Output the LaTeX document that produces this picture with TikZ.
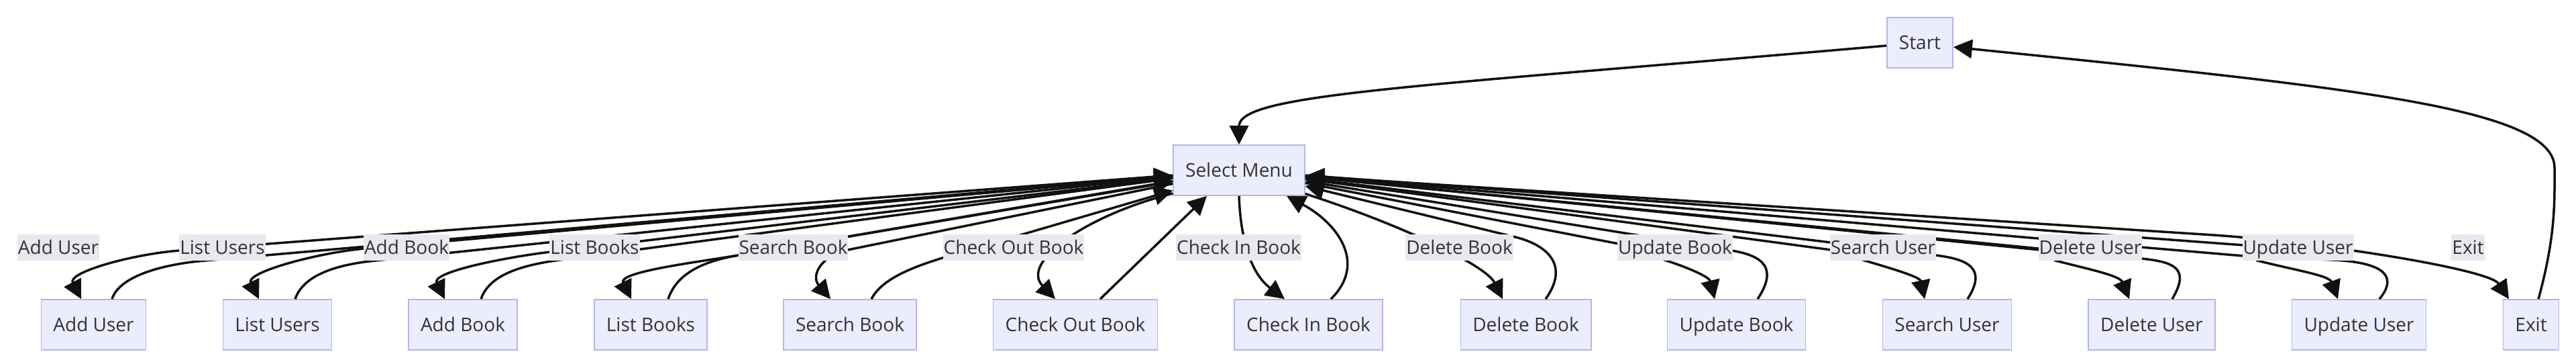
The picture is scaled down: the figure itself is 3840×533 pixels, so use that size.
\documentclass[tikz,border=0pt]{standalone}
\usepackage{fontspec}
\setmainfont{Open Sans}
\usetikzlibrary{arrows.meta,calc}
\definecolor{nodefill}{RGB}{236,236,255}
\definecolor{nodeline}{RGB}{180,180,240}
\definecolor{lblbg}{RGB}{232,232,240}
\definecolor{edgecol}{RGB}{17,17,17}
\definecolor{txt}{RGB}{51,51,51}
\begin{document}
\begin{tikzpicture}[x=0.5pt,y=-0.5pt,
  box/.style={draw=nodeline, line width=0.8pt, fill=nodefill, text=txt, inner xsep=9pt, inner ysep=0pt,
    minimum height=37.5pt, text height=10pt, text depth=0pt, font=\fontsize{14}{16}\selectfont},
  lbl/.style={fill=lblbg, text=txt, inner xsep=0.5pt, inner ysep=0pt,
    minimum height=19.5pt, text height=10pt, text depth=0pt, font=\fontsize{14}{16}\selectfont},
  edge/.style={draw=edgecol, line width=1.75pt, line join=round, -{Triangle[length=14pt,width=14pt]}}]
\useasboundingbox[fill=white] (0,0) rectangle (3840,533);

% nodes
\node[box] (start) at (2862,63.5) {Start};
\node[box] (menu) at (1847,253.5) {Select Menu};
\node[box] (au) at (139.5,483.5) {Add User};
\node[box] (lu) at (413.5,483.5) {List Users};
\node[box] (ab) at (690,483.5) {Add Book};
\node[box] (lb) at (970,483.5) {List Books};
\node[box] (sb) at (1267,483.5) {Search Book};
\node[box] (cob) at (1603,483.5) {Check Out Book};
\node[box] (cib) at (1950.5,483.5) {Check In Book};
\node[box] (db) at (2274.5,483.5) {Delete Book};
\node[box] (ub) at (2588.5,483.5) {Update Book};
\node[box] (su) at (2902.5,483.5) {Search User};
\node[box] (du) at (3207.5,483.5) {Delete User};
\node[box] (uu) at (3516.5,483.5) {Update User};
\node[box] (ex) at (3773,483.5) {Exit};

% Start -> Select Menu
\draw[edge] ($(start.west)+(0,4.5)$) .. controls (2100,130) and (1847,140) .. (menu.north);

% left forward edges
\draw[edge] ($(menu.west)+(0,7.5)$) -- (268,373) .. controls (200,378) and (100,405) .. ($(au.north)+(-18.5,0)$);
\draw[edge] ($(menu.west)+(0,8.8)$) -- (544,370) .. controls (476,376) and (366,405) .. ($(lu.north)+(-27.5,0)$);
\draw[edge] ($(menu.west)+(0,11.5)$) -- (821,375) .. controls (753,383) and (643,405) .. ($(ab.north)+(-27,0)$);
\draw[edge] ($(menu.west)+(0,16)$) -- (1101,380) .. controls (1034,391) and (921,405) .. ($(lb.north)+(-29,0)$);
\draw[edge] ($(menu.west)+(0,20)$) -- (1264,372) .. controls (1225,380) and (1208,410) .. ($(sb.north)+(-29,0)$);
\draw[edge] ($(menu.west)+(0,34.5)$) .. controls (1620,320) and (1520,390) .. ($(cob.north)+(-30,0)$);

% left return edges
\draw[edge] ($(au.north)+(27.5,0)$) .. controls (178,410) and (246,393) .. (306,388) -- ($(menu.west)+(0,8)$);
\draw[edge] ($(lu.north)+(26.5,0)$) .. controls (452,410) and (500,394) .. (560,388) -- ($(menu.west)+(0,9.5)$);
\draw[edge] ($(ab.north)+(27,0)$) .. controls (729,410) and (775,395) .. (835,387) -- ($(menu.west)+(0,12)$);
\draw[edge] ($(lb.north)+(26,0)$) .. controls (1008,410) and (1042,390) .. (1101,380) -- ($(menu.west)+(0,17)$);
\draw[edge] ($(sb.north)+(32,0)$) .. controls (1318,408) and (1384,390) .. (1442,373) -- ($(menu.west)+(0,30)$);
\draw[edge] ($(cob.north)+(37,0)$) -- ($(menu.south)+(-48,0)$);

% middle
\draw[edge] (menu.south) .. controls (1849,350) and (1862,405) .. ($(cib.north)+(-35.5,0)$);
\draw[edge] ($(cib.north)+(33.5,0)$) .. controls (2040,390) and (1990,330) .. ($(menu.south)+(71,0)$);

% right forward edges
\draw[edge] ($(menu.east)+(0,35)$) .. controls (2090,335) and (2215,395) .. ($(db.north)+(-34.5,0)$);
\draw[edge] ($(menu.east)+(0,19)$) -- (2413,363) -- (2484,388) .. controls (2515,398) and (2548,412) .. ($(ub.north)+(-32.5,0)$);
\draw[edge] ($(menu.east)+(0,13)$) -- (2729,372) -- (2780,388) .. controls (2820,400) and (2862,412) .. ($(su.north)+(-33.5,0)$);
\draw[edge] ($(menu.east)+(0,9.5)$) -- (3040,372) -- (3064,388) .. controls (3110,400) and (3160,410) .. ($(du.north)+(-33.5,0)$);
\draw[edge] ($(menu.east)+(0,7.5)$) -- (3344,365) -- (3365,388) .. controls (3420,402) and (3472,410) .. ($(uu.north)+(-31.5,0)$);
\draw[edge] ($(menu.east)+(0,8.5)$) -- (3300,350) .. controls (3450,360) and (3710,400) .. ($(ex.north)+(-33,0)$);

% right return edges
\draw[edge] ($(db.north)+(29.5,0)$) .. controls (2340,395) and (2307,365) .. (2259,353) -- ($(menu.east)+(0,23.5)$);
\draw[edge] ($(ub.north)+(31.5,0)$) .. controls (2650,400) and (2630,381) .. (2581,373) -- ($(menu.east)+(0,16)$);
\draw[edge] ($(su.north)+(30.5,0)$) .. controls (2962,400) and (2935,386) .. (2885,380) -- ($(menu.east)+(0,12)$);
\draw[edge] ($(du.north)+(30.5,0)$) .. controls (3265,400) and (3242,390) .. (3192,385) -- ($(menu.east)+(0,9.5)$);
\draw[edge] ($(uu.north)+(30.5,0)$) .. controls (3580,405) and (3540,390) .. (3477,387) -- (3344,381) -- ($(menu.east)+(0,8.5)$);

% Exit -> Start
\draw[edge] ($(ex.north)+(11,0)$) .. controls (3810,350) and (3808,300) .. (3808,250) .. controls (3808,160) and (3500,130) .. ($(start.east)+(0,6.5)$);

% edge labels
\node[lbl] (la1) at (87,368.5) {Add User};
\node[lbl] (la2) at (331.5,368.5) {List Users};
\node[lbl] (la3) at (606,368.5) {Add Book};
\node[lbl] (la4) at (886.5,368.5) {List Books};
\node[lbl] (la5) at (1182.5,368.5) {Search Book};
\node[lbl] (la6) at (1511,368.5) {Check Out Book};
\node[lbl] (la7) at (1846.5,368.5) {Check In Book};
\node[lbl] (la8) at (2175.5,368.5) {Delete Book};
\node[lbl] (la9) at (2497,368.5) {Update Book};
\node[lbl] (la10) at (2807,368.5) {Search User};
\node[lbl] (la11) at (3116,368.5) {Delete User};
\node[lbl] (la12) at (3425.5,368.5) {Update User};
\node[lbl] (la13) at (3679,368.5) {Exit};
\end{tikzpicture}
\end{document}
